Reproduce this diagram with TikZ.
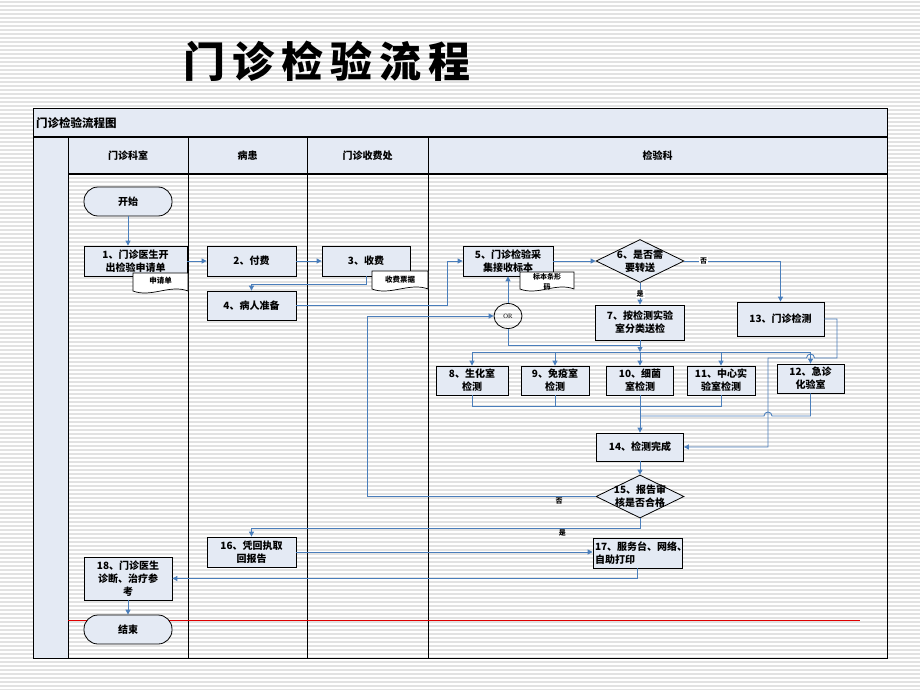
\documentclass[tikz,border=0pt]{standalone}
\usepackage{fontspec}
\setmainfont{Noto Sans CJK SC}
\newfontfamily\titlefont[LetterSpace=17]{Noto Sans CJK SC}
\newfontfamily\latinserif{Liberation Serif}
\usetikzlibrary{arrows.meta,shapes.geometric,calc}

\definecolor{paleblue}{HTML}{E4EAF4}
\definecolor{flowblue}{HTML}{4A7EBB}
\definecolor{stripegray}{HTML}{E2E2E2}
\definecolor{cutred}{HTML}{E00000}

\begin{document}
\begin{tikzpicture}[x=1pt, y=-1pt,
    box/.style={draw, line width=0.8pt, fill=paleblue, inner sep=2pt, align=center,
      font=\fontsize{10}{13}\selectfont\bfseries},
    term/.style={box, rounded corners=14pt, minimum width=88pt, minimum height=29pt},
    decide/.style={diamond, draw, line width=0.8pt, fill=paleblue, inner sep=0pt,
      minimum width=88pt, minimum height=43pt},
    dtext/.style={align=center, inner sep=0pt, font=\fontsize{10}{13}\selectfont\bfseries},
    docnote/.style={inner sep=1pt, align=center, font=\fontsize{7.5}{9}\selectfont\bfseries},
    docline/.style={draw, line width=0.7pt, fill=white},
    head/.style={font=\fontsize{10}{11}\selectfont\bfseries},
    yesno/.style={font=\fontsize{7}{8}\selectfont\bfseries, inner sep=1pt},
    flow/.style={draw=flowblue, line width=0.9pt, -{Triangle[length=5pt,width=5pt]}},
    wire/.style={draw=flowblue, line width=0.9pt},
    lane/.style={line width=0.8pt}
  ]
  \useasboundingbox (0,0) rectangle (920,690);

  % slide background
  \foreach \y in {2,6,...,690}
    \draw[stripegray, line width=1.5pt] (0,\y) -- (920,\y);

  \node (title) [font=\titlefont\fontsize{42}{46}\selectfont\bfseries] at (327,61) {门诊检验流程};

  % table frame
  \fill[paleblue] (33,109) rectangle (887,137);
  \fill[paleblue] (68,137) rectangle (887,174);
  \fill[paleblue] (33,137) rectangle (68,658);
  \draw[line width=1pt] (33,109) rectangle (887,658);
  \draw[line width=2pt] (33,137) -- (887,137);
  \draw[line width=1.2pt] (68,174) -- (887,174);
  \foreach \x in {68,188,307,428}
    \draw[lane] (\x,137) -- (\x,658);
  \draw[cutred, line width=1pt] (68,620.5) -- (860,620.5);

  \node (chart) [anchor=west, inner sep=0pt, font=\fontsize{11.5}{13}\selectfont\bfseries] at (36,123) {门诊检验流程图};
  \node (h1) [head] at (128,156) {门诊科室};
  \node (h2) [head] at (247.5,156) {病患};
  \node (h3) [head] at (367.5,156) {门诊收费处};
  \node (h4) [head] at (657.5,156) {检验科};

  % steps
  \node (start) [term] at (128,201.5) {开始};
  \node (n1) [box, minimum width=103pt, minimum height=30pt] at (135.5,261) {1、门诊医生开\\出检验申请单};
  \node (n2) [box, minimum width=89pt, minimum height=30pt] at (251.5,261) {2、付费};
  \node (n3) [box, minimum width=88pt, minimum height=30pt] at (366,261) {3、收费};
  \node (n4) [box, minimum width=89pt, minimum height=29pt] at (251.5,305.5) {4、病人准备};
  \node (n5) [box, minimum width=90pt, minimum height=30pt] at (508,261) {5、门诊检验采\\集接收标本};
  \node (n6) [decide, label={[dtext]center:{6、是否需\\要转送}}] at (640,261) {};
  \node (n7) [box, minimum width=89pt, minimum height=35pt] at (640,322.5) {7、按检测实验\\室分类送检};
  \node (or) [ellipse, draw, line width=0.8pt, minimum width=28pt, minimum height=25pt, inner sep=0pt,
    font=\latinserif\fontsize{6.5}{7}\selectfont] at (508,316) {OR};
  \node (n13) [box, minimum width=87pt, minimum height=34pt] at (780.5,319) {13、门诊检测};
  \node (n8) [box, minimum width=72pt, minimum height=29pt] at (472,380.5) {8、生化室\\检测};
  \node (n9) [box, minimum width=68pt, minimum height=29pt] at (555,380.5) {9、免疫室\\检测};
  \node (n10) [box, minimum width=67pt, minimum height=29pt] at (640,380.5) {10、细菌\\室检测};
  \node (n11) [box, minimum width=68pt, minimum height=29pt] at (721,380.5) {11、中心实\\验室检测};
  \node (n12) [box, minimum width=67pt, minimum height=29pt] at (810.5,378.5) {12、急诊\\化验室};
  \node (n14) [box, minimum width=87pt, minimum height=28pt] at (640,447) {14、检测完成};
  \node (n15) [decide, label={[dtext]center:{15、报告审\\核是否合格}}] at (640,496.5) {};
  \node (n16) [box, minimum width=89pt, minimum height=30pt] at (251.5,552) {16、凭回执取\\回报告};
  \node (n17) [box, text width=85pt, align=left, minimum height=30pt] at (637.5,553) {17、服务台、网络、\\自助打印};
  \node (n18) [box, minimum width=88pt, minimum height=43pt] at (128,578.5) {18、门诊医生\\诊断、治疗参\\考};
  \node (stop) [term] at (128,629.5) {结束};

  % documents
  \draw[docline] (133,273) -- ++(55,0) -- ++(0,18) .. controls +(-18,-7) and +(18,7) .. ++(-55,0) -- cycle;
  \node (form) [docnote] at (160.5,281) {申请单};
  \draw[docline] (372,271) -- ++(56,0) -- ++(0,18) .. controls +(-18,-7) and +(18,7) .. ++(-56,0) -- cycle;
  \node (bill) [docnote] at (400,280) {收费票据};
  \draw[docline] (520,272) -- ++(54,0) -- ++(0,17) .. controls +(-18,-7) and +(18,7) .. ++(-54,0) -- cycle;
  \node (barcode) [docnote, font=\fontsize{7}{10}\selectfont\bfseries] at (547,282) {标本条形\\码};

  \coordinate (c45) at (447,261);
  \coordinate (split) at (640,352);
  \coordinate (merge) at (640,406);
  \coordinate (back) at (367,316);
  \coordinate (yes) at (640,528);

  % connectors
  \draw[flow] (start) -- (start |- n1.north);
  \draw[flow] (n1) -- (n2);
  \draw[flow] (n2) -- (n3);
  \draw[flow] (n3.south) -- ++(0,8) -| (n4.north);
  \draw[flow] (n4.east) -| (c45) -- (n5.west);
  \draw[flow] (n5) -- (n6);
  \draw[flow] (n6.east) -| node[yesno, fill=white, pos=0.1] {否} (n13.north);
  \draw[flow] (n6.south) -- node[yesno, fill=white] {是} (n7.north);
  \draw[flow] (or.north) -- (n5.south);
  \draw[wire] (or.south) |- (640,345);
  \draw[flow] (n7.south) -- (split);
  \draw[wire] (n8 |- split) -- (n12 |- split);
  \foreach \n in {n8,n9,n10,n11,n12}
    \draw[flow] (\n |- split) -- (\n.north);
  \draw[wire] (n8.south) |- (n11 |- merge) -- (n11.south);
  \draw[wire] (n9.south) -- (n9 |- merge);
  \draw[flow] (n10.south) -- (n14.north);
  \draw[wire] (n12.south) |- (772,416) arc (0:-180:4) -- (640,416);
  \draw[flow] (n13.east) -- (837,319) -- (837,358) -- (814.5,358) arc (0:-180:4) -- (768,358) |- (n14.east);
  \draw[flow] (n14) -- (n15);
  \draw[flow] (n15.west) -| node[yesno, below, pos=0.08] {否} (back) -- (or.west);
  \draw[flow] (n15.south) -- (yes) -| node[yesno, below, pos=0.1] {是} (n16.north);
  \draw[flow] (n16.east) -- (n16.east -| n17.west);
  \draw[flow] (n17.south) |- (n18.east);
  \draw[flow] (n18) -- (stop);
\end{tikzpicture}
\end{document}
